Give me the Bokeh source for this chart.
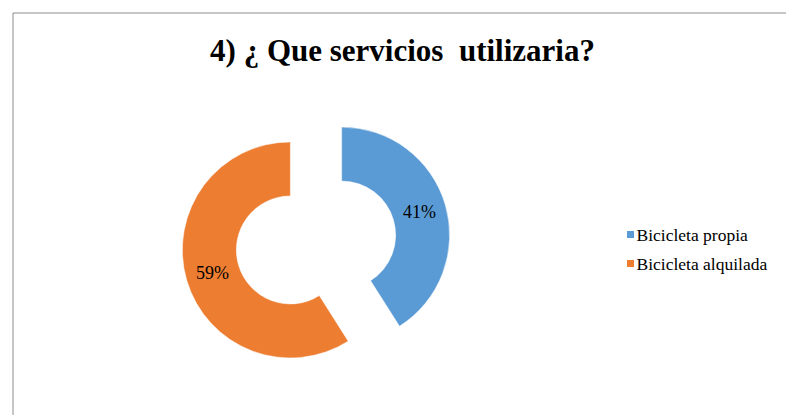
import numpy as np
from bokeh.plotting import figure
from bokeh.models import ColumnDataSource, Range1d
from bokeh.core.properties import value
from bokeh.embed import file_html
from bokeh.resources import INLINE

# ---- data ----
title_text = "4) ¿ Que servicios \u00a0utilizaria?"
categories = ["Bicicleta propia", "Bicicleta alquilada"]
values = [41, 59]
pct_labels = ["41%", "59%"]
colors = ["#5B9BD5", "#ED7D31"]

# ---- layout (pixel-like data units, y up) ----
W, H = 786, 415
CX, CY = 315.5, 173.0      # donut centre
R_OUT, R_IN = 108, 54
EXPLODE = 26.7
LEG_X, LEG_Y0, LEG_DY = 630, 181, 29

vals = np.array(values, dtype=float)
frac = vals / vals.sum()
cum = np.concatenate([[0], np.cumsum(frac)])
end_a = np.pi / 2 - 2 * np.pi * cum[:-1]
start_a = np.pi / 2 - 2 * np.pi * cum[1:]
mid = (start_a + end_a) / 2
xs = CX + EXPLODE * np.cos(mid)
ys = CY + EXPLODE * np.sin(mid)
r_mid = (R_OUT + R_IN) / 2

src = ColumnDataSource(dict(
    x=xs, y=ys, start=start_a, end=end_a, color=colors,
    lx=xs + r_mid * np.cos(mid), ly=ys + r_mid * np.sin(mid), lab=pct_labels,
    cat=categories,
    kx=[LEG_X] * len(categories),
    ky=[LEG_Y0 - i * LEG_DY for i in range(len(categories))],
    tx=[LEG_X + 6] * len(categories),
))

p = figure(width=W, height=H, x_range=Range1d(0, W), y_range=Range1d(0, H),
           output_backend="svg", toolbar_location=None, min_border=0,
           x_axis_type=None, y_axis_type=None)
p.grid.visible = False
p.outline_line_color = None
p.background_fill_color = "white"
p.border_fill_color = "white"

# chart-area border (top and left visible)
p.line(x=[12.5, 12.5, W], y=[0, H - 12.5, H - 12.5], line_color="#8c8c8c", line_width=1)

p.annular_wedge(x="x", y="y", inner_radius=R_IN, outer_radius=R_OUT,
                start_angle="start", end_angle="end", fill_color="color",
                line_color="white", line_width=0.5, source=src)

p.text(x="lx", y="ly", text="lab", source=src, text_align="center",
       text_baseline="middle", text_font=value("Liberation Serif"),
       text_font_size="18px", text_color="#000000")

p.text(x=[402], y=[H - 50], text=[title_text], text_align="center",
       text_baseline="middle", text_font=value("Liberation Serif"),
       text_font_style="bold", text_font_size="31px", text_color="#000000")

# legend
p.scatter(x="kx", y="ky", marker="square", size=7, fill_color="color",
          line_color=None, source=src)
p.text(x="tx", y="ky", text="cat", source=src, text_align="left",
       text_baseline="middle", text_font=value("Liberation Serif"),
       text_font_size="17.5px", text_color="#000000")

open("out.html", "w").write(file_html(p, INLINE))
